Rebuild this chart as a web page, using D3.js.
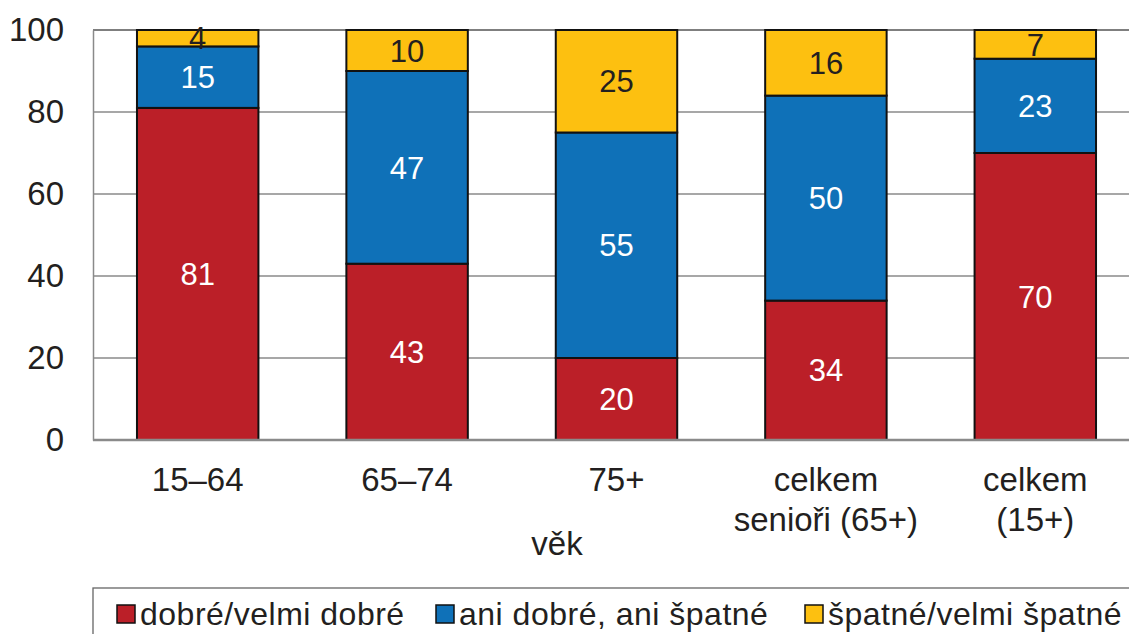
<!DOCTYPE html>
<html>
<head>
<meta charset="utf-8">
<script src="https://cdn.jsdelivr.net/npm/d3@7"></script>
<style>
  body { margin: 0; background: #fff; }
  svg { display: block; font-family: "Liberation Sans", Arial, sans-serif; }
</style>
</head>
<body>
<svg id="chart" width="1129" height="634"></svg>
<script>
// data
const categories = ['15–64', '65–74', '75+', 'celkem\nsenioři (65+)', 'celkem\n(15+)'];
const dobre = [81, 43, 20, 34, 70];
const ani = [15, 47, 55, 50, 23];
const spatne = [4, 10, 25, 16, 7];
const seriesNames = ['dobré/velmi dobré', 'ani dobré, ani špatné', 'špatné/velmi špatné'];
const seriesColors = ['#bb1f28', '#0f71b8', '#fdc010'];
const labelColors = ['#ffffff', '#ffffff', '#231f20'];
const yTicks = [0, 20, 40, 60, 80, 100];

const svg = d3.select('#chart');
const plotLeft = 93, plotRight = 1140, plotTop = 30, plotBottom = 440;

const rows = categories.map((c, i) => ({ cat: c, s0: dobre[i], s1: ani[i], s2: spatne[i] }));
const stacked = d3.stack().keys(['s0', 's1', 's2'])(rows);

const x = d3.scaleBand().domain(categories).range([plotLeft, plotRight]).paddingInner(0.42).paddingOuter(0.21);
const y = d3.scaleLinear().domain([0, 100]).range([plotBottom, plotTop]);

// grid
svg.append('g')
  .selectAll('line')
  .data(yTicks.filter(t => t > 0))
  .enter()
  .append('line')
  .attr('x1', plotLeft).attr('x2', plotRight)
  .attr('y1', d => y(d)).attr('y2', d => y(d))
  .attr('stroke', d => d === 100 ? '#555' : '#8a8a8a')
  .attr('stroke-width', 1.3);

// y axis
const yAxis = svg.append('g')
  .attr('transform', `translate(${plotLeft},0)`)
  .call(d3.axisLeft(y).tickValues(yTicks).tickSize(0).tickPadding(29));
yAxis.select('.domain').attr('stroke', '#8a8a8a').attr('stroke-width', 1.5);
yAxis.selectAll('text')
  .attr('font-size', 33)
  .attr('font-family', '"Liberation Sans", Arial, sans-serif')
  .attr('fill', '#231f20');

// bars
const groups = svg.append('g')
  .selectAll('g')
  .data(stacked)
  .enter()
  .append('g')
  .attr('fill', (d, i) => seriesColors[i]);

groups.selectAll('rect')
  .data(d => d)
  .enter()
  .append('rect')
  .attr('x', d => x(d.data.cat))
  .attr('width', x.bandwidth())
  .attr('y', d => y(d[1]))
  .attr('height', d => y(d[0]) - y(d[1]))
  .attr('stroke', '#111')
  .attr('stroke-width', 2);

// value labels
groups.each(function(s, si) {
  d3.select(this).selectAll('text')
    .data(s)
    .enter()
    .append('text')
    .attr('x', d => x(d.data.cat) + x.bandwidth() / 2)
    .attr('y', d => (y(d[0]) + y(d[1])) / 2)
    .attr('dy', '0.36em')
    .attr('text-anchor', 'middle')
    .attr('font-size', 31)
    .attr('fill', labelColors[si])
    .text(d => d[1] - d[0]);
});

// x axis line
svg.append('line')
  .attr('x1', plotLeft).attr('x2', plotRight)
  .attr('y1', plotBottom).attr('y2', plotBottom)
  .attr('stroke', '#8a8a8a')
  .attr('stroke-width', 2.5);

// category labels
const catLabels = svg.append('g')
  .selectAll('text')
  .data(categories)
  .enter()
  .append('text')
  .attr('x', d => x(d) + x.bandwidth() / 2)
  .attr('y', 491)
  .attr('text-anchor', 'middle')
  .attr('font-size', 33)
  .attr('fill', '#231f20');
catLabels.each(function(d) {
  const parts = d.split('\n');
  d3.select(this).selectAll('tspan')
    .data(parts)
    .enter()
    .append('tspan')
    .attr('x', x(d) + x.bandwidth() / 2)
    .attr('dy', (p, i) => i === 0 ? 0 : 40)
    .text(p => p);
});

svg.append('text')
  .attr('x', 557)
  .attr('y', 555)
  .attr('text-anchor', 'middle')
  .attr('font-size', 33)
  .attr('fill', '#231f20')
  .text('věk');

// legend
svg.append('rect')
  .attr('x', 93).attr('y', 588)
  .attr('width', 1100).attr('height', 80)
  .attr('fill', 'none')
  .attr('stroke', '#666')
  .attr('stroke-width', 1.3);

const legendX = [117, 436, 805];
const legend = svg.append('g')
  .selectAll('g')
  .data(seriesNames)
  .enter()
  .append('g')
  .attr('transform', (d, i) => `translate(${legendX[i]},614)`);
legend.append('rect')
  .attr('x', 0).attr('y', -9)
  .attr('width', 18).attr('height', 18)
  .attr('fill', (d, i) => seriesColors[i])
  .attr('stroke', '#111')
  .attr('stroke-width', 1.5);
legend.append('text')
  .attr('x', 23)
  .attr('y', 11)
  .attr('font-size', 32)
  .attr('letter-spacing', 0.5)
  .attr('fill', '#231f20')
  .text(d => d);
</script>
</body>
</html>
